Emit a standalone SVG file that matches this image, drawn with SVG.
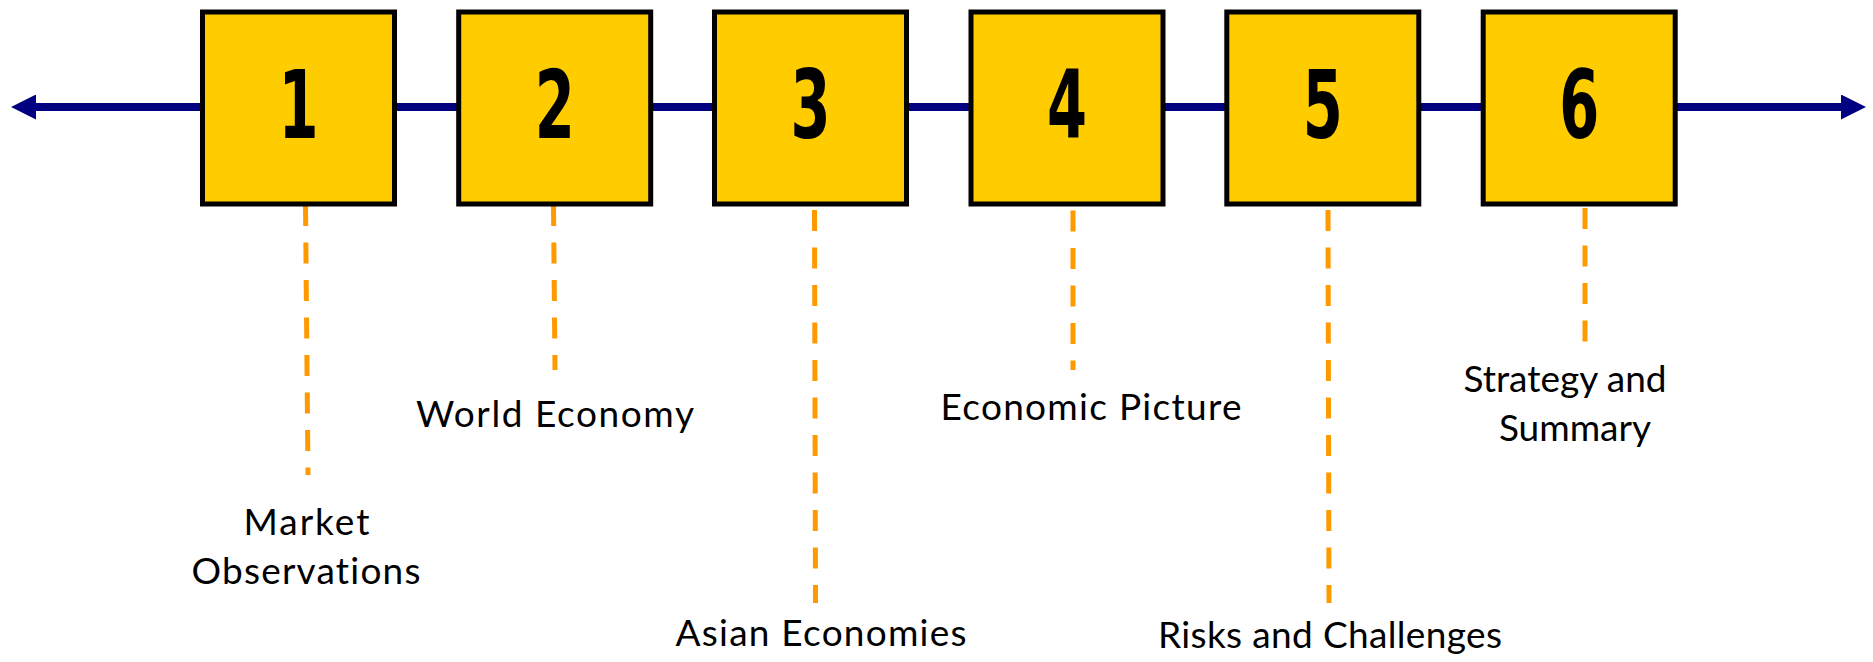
<svg xmlns="http://www.w3.org/2000/svg" width="1873" height="662" viewBox="0 0 1873 662">
  <style>
    .box { fill: #FFCC00; stroke: #000000; stroke-width: 5; }
    .num { font-family: "DejaVu Sans Condensed", "DejaVu Sans", sans-serif; font-weight: bold; font-size: 95px; fill: #000000; text-anchor: middle; }
    .lbl { font-family: Lato, "Open Sans", sans-serif; font-size: 37px; fill: #000000; text-anchor: middle; font-variant-ligatures: none; }
    .axis { stroke: #000080; stroke-width: 8; fill: none; }
    .dash { stroke: #FF9900; stroke-width: 5; stroke-dasharray: 21 16.5; fill: none; }
  </style>
  <defs>
    <marker id="arrow" markerUnits="userSpaceOnUse" markerWidth="25" markerHeight="25" viewBox="0 0 25 25" refX="5" refY="12.5" orient="auto-start-reverse">
      <path d="M0,0 L25,12.5 L0,25 z" fill="#000080"/>
    </marker>
  </defs>
  <rect width="1873" height="662" fill="#FFFFFF"/>
  <g id="connectors">
    <line class="axis" x1="31" y1="107" x2="1846" y2="107" marker-start="url(#arrow)" marker-end="url(#arrow)"/>
    <line class="dash" x1="305.5" y1="205" x2="308" y2="475"/>
    <line class="dash" x1="553.5" y1="205" x2="555" y2="370"/>
    <line class="dash" x1="814.5" y1="210" x2="815.5" y2="603"/>
    <line class="dash" x1="1073" y1="210.5" x2="1073" y2="370"/>
    <line class="dash" x1="1328" y1="210" x2="1329" y2="603"/>
    <line class="dash" x1="1585" y1="208" x2="1585" y2="342"/>
  </g>
  <g id="node1">
    <rect class="box" x="202.5" y="12" width="192" height="192"/>
    <text class="num" x="298.5" y="138" textLength="40" lengthAdjust="spacingAndGlyphs">1</text>
    <text class="lbl" x="306.5" y="535" textLength="126">Market</text>
    <text class="lbl" x="306" y="584" textLength="229">Observations</text>
  </g>
  <g id="node2">
    <rect class="box" x="458.7" y="12" width="192" height="192"/>
    <text class="num" x="554.7" y="138" textLength="40" lengthAdjust="spacingAndGlyphs">2</text>
    <text class="lbl" x="555" y="427" textLength="278">World Economy</text>
  </g>
  <g id="node3">
    <rect class="box" x="714.5" y="12" width="192" height="192"/>
    <text class="num" x="810.5" y="138" textLength="40" lengthAdjust="spacingAndGlyphs">3</text>
    <text class="lbl" x="821" y="646" textLength="291">Asian Economies</text>
  </g>
  <g id="node4">
    <rect class="box" x="971" y="12" width="192" height="192"/>
    <text class="num" x="1067" y="138" textLength="40" lengthAdjust="spacingAndGlyphs">4</text>
    <text class="lbl" x="1091" y="420" textLength="301">Economic Picture</text>
  </g>
  <g id="node5">
    <rect class="box" x="1226.8" y="12" width="192" height="192"/>
    <text class="num" x="1322.8" y="138" textLength="40" lengthAdjust="spacingAndGlyphs">5</text>
    <text class="lbl" x="1330" y="648" textLength="344">Risks and Challenges</text>
  </g>
  <g id="node6">
    <rect class="box" x="1483.2" y="12" width="192" height="192"/>
    <text class="num" x="1579.2" y="138" textLength="40" lengthAdjust="spacingAndGlyphs">6</text>
    <text class="lbl" x="1565" y="392">Strategy and</text>
    <text class="lbl" x="1575" y="441">Summary</text>
  </g>
</svg>
